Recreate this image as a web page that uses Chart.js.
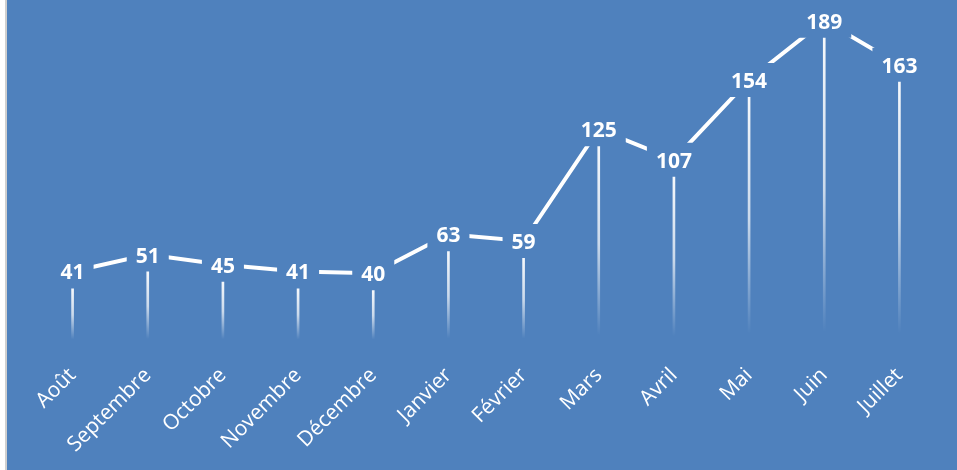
<!DOCTYPE html>
<html>
<head>
<meta charset="utf-8">
<script src="https://cdn.jsdelivr.net/npm/chart.js@4"></script>
<style>
  html, body { margin: 0; padding: 0; background: #fff; }
  #wrap { width: 957px; height: 470px; }
</style>
</head>
<body>
<div id="wrap"><canvas id="mainChart" width="957" height="470"></canvas></div>
<script>
const categories = ['Août', 'Septembre', 'Octobre', 'Novembre', 'Décembre', 'Janvier', 'Février', 'Mars', 'Avril', 'Mai', 'Juin', 'Juillet'];
const values = [41, 51, 45, 41, 40, 63, 59, 125, 107, 154, 189, 163];

const bgBlue = '#4f81bd';
const labelFont = 'bold 21px "Open Sans"';
const padX = 9;
const halfH = 17;

function labelRects(chart) {
    const meta = chart.getDatasetMeta(0);
    const ctx = chart.ctx;
    ctx.save();
    ctx.font = labelFont;
    const rects = meta.data.map((pt, i) => {
        const w = ctx.measureText(String(values[i])).width + padX * 2;
        return { x: pt.x - w / 2, y: pt.y - halfH, w: w, h: halfH * 2, cx: pt.x, cy: pt.y };
    });
    ctx.restore();
    return rects;
}

const bgPlugin = {
    id: 'bgPlugin',
    beforeDraw(chart) {
        const ctx = chart.ctx;
        ctx.save();
        ctx.fillStyle = '#ffffff';
        ctx.fillRect(0, 0, chart.width, chart.height);
        ctx.fillStyle = '#cfcfcf';
        ctx.fillRect(5, 0, 2, chart.height);
        ctx.fillStyle = bgBlue;
        ctx.fillRect(7, 0, chart.width - 7, chart.height);
        ctx.restore();
    }
};

const gapLabels = {
    id: 'gapLabels',
    beforeDatasetsDraw(chart) {
        const ctx = chart.ctx;
        const rects = labelRects(chart);
        ctx.save();
        ctx.beginPath();
        ctx.rect(0, 0, chart.width, chart.height);
        rects.forEach(r => ctx.rect(r.x, r.y, r.w, r.h));
        ctx.clip('evenodd');
    },
    afterDatasetsDraw(chart) {
        const ctx = chart.ctx;
        ctx.restore();
        const rects = labelRects(chart);
        ctx.save();
        ctx.font = labelFont;
        ctx.fillStyle = '#ffffff';
        ctx.textAlign = 'center';
        ctx.textBaseline = 'middle';
        rects.forEach((r, i) => ctx.fillText(String(values[i]), r.cx, r.cy + 2));
        ctx.restore();
    }
};

function dropGradient(context) {
    const chart = context.chart;
    const { ctx, chartArea, scales } = chart;
    if (!chartArea || !scales.y) return 'rgba(255,255,255,0.8)';
    const top = scales.y.getPixelForValue(context.raw) + halfH;
    const bottom = scales.y.getPixelForValue(0);
    const g = ctx.createLinearGradient(0, top, 0, bottom);
    g.addColorStop(0, 'rgba(255,255,255,0.95)');
    g.addColorStop(0.5, 'rgba(255,255,255,0.7)');
    g.addColorStop(0.97, 'rgba(255,255,255,0)');
    return g;
}

new Chart(document.getElementById('mainChart').getContext('2d'), {
    type: 'bar',
    data: {
        labels: categories,
        datasets: [
            {
                type: 'line',
                data: values,
                borderColor: '#ffffff',
                borderWidth: 4,
                tension: 0,
                pointRadius: 0,
                fill: false,
                order: 0
            },
            {
                type: 'bar',
                data: values,
                backgroundColor: dropGradient,
                borderWidth: 0,
                barThickness: 2,
                order: 1
            }
        ]
    },
    options: {
        responsive: false,
        animation: false,
        layout: { padding: { left: 35, right: 20, top: 2, bottom: 0 } },
        plugins: { legend: { display: false }, tooltip: { enabled: false } },
        scales: {
            y: { display: false, min: 0, max: 200 },
            x: {
                grid: { display: false, drawTicks: false },
                border: { display: false },
                ticks: {
                    color: '#ffffff',
                    font: { family: '"Open Sans"', size: 21 },
                    minRotation: 45,
                    maxRotation: 45,
                    padding: 22
                },
                afterFit(scale) { scale.height = 129; }
            }
        }
    },
    plugins: [bgPlugin, gapLabels]
});
</script>
</body>
</html>
